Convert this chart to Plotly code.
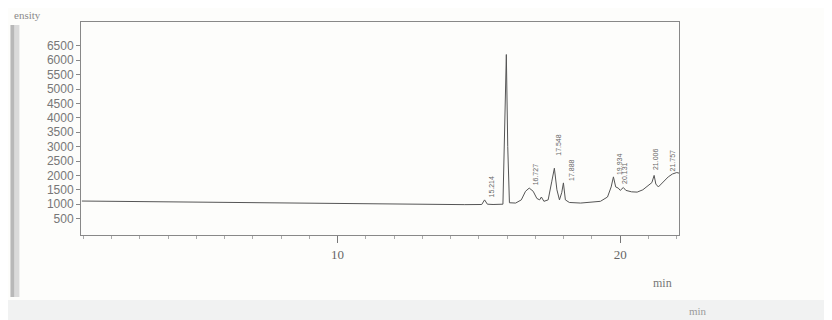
import plotly.graph_objects as go

# Chromatogram trace (time in min, signal)
time_min = [0.95, 2.0, 3.5, 5.0, 7.0, 9.0, 11.0, 13.0, 14.5, 15.1, 15.2, 15.3, 15.5, 15.85,
            15.92, 15.97, 16.02, 16.08, 16.3, 16.5, 16.65, 16.78, 16.92, 17.05, 17.15, 17.21,
            17.3, 17.45, 17.58, 17.67, 17.76, 17.85, 17.93, 17.99, 18.06, 18.2, 18.6, 19.0,
            19.3, 19.55, 19.68, 19.76, 19.84, 19.93, 20.0, 20.11, 20.2, 20.4, 20.6, 20.8,
            21.0, 21.12, 21.2, 21.26, 21.35, 21.5, 21.7, 21.85, 22.0, 22.08]
signal = [1110, 1100, 1080, 1050, 1030, 1010, 1000, 990, 985, 990, 1150, 1000, 990, 1000,
          3500, 6200, 3000, 1050, 1040, 1150, 1450, 1560, 1450, 1200, 1150, 1250,
          1100, 1150, 1800, 2250, 1500, 1150, 1400, 1740, 1150, 1060, 1040, 1060,
          1100, 1250, 1600, 1950, 1600, 1560, 1480, 1580, 1480, 1430, 1420, 1500,
          1650, 1750, 2000, 1700, 1600, 1750, 1950, 2050, 2100, 2080]

# Peak labels (retention times printed above peaks)
peak_labels = ["15.214", "16.727", "17.548", "17.888", "19.934", "20.131", "21.006", "21.757"]
peak_label_t = [15.45, 17.0, 17.82, 18.27, 20.0, 20.15, 21.25, 21.85]
peak_label_y = [1150, 1600, 2600, 1750, 1950, 1650, 2100, 2050]

y_ticks = [500, 1000, 1500, 2000, 2500, 3000, 3500, 4000, 4500, 5000, 5500, 6000, 6500]
x_ticks = [10, 20]

line_col = "#555555"
text_col = "#6a6a6a"

fig = go.Figure()
fig.add_trace(go.Scatter(x=time_min, y=signal, mode="lines",
                         line=dict(color=line_col, width=1), hoverinfo="skip",
                         showlegend=False))

for lab, t, v in zip(peak_labels, peak_label_t, peak_label_y):
    fig.add_annotation(x=t, y=v, text=lab, textangle=-90, showarrow=False,
                       xanchor="center", yanchor="bottom",
                       font=dict(size=7, color="#666666", family="Liberation Sans"))

# scan artefacts: left grey strip and bottom band
fig.add_shape(type="rect", xref="paper", yref="paper", x0=-0.118, x1=-0.111, y0=-0.291, y1=0.986,
              fillcolor="#b8b8b8", line=dict(width=0), layer="below")
fig.add_shape(type="rect", xref="paper", yref="paper", x0=-0.111, x1=-0.103, y0=-0.291, y1=0.986,
              fillcolor="#dadada", line=dict(width=0), layer="below")
fig.add_shape(type="rect", xref="paper", yref="paper", x0=-0.14, x1=1.26, y0=-0.40, y1=-0.305,
              fillcolor="#f1f2f2", line=dict(width=0), layer="below")

fig.add_annotation(xref="paper", yref="paper", x=-0.116, y=1.033, text="ensity", showarrow=False,
                   xanchor="left", yanchor="middle",
                   font=dict(size=11, color="#8a8a8a", family="Liberation Serif"))
fig.add_annotation(xref="paper", yref="paper", x=0.973, y=-0.225, text="min", showarrow=False,
                   xanchor="center", yanchor="middle",
                   font=dict(size=12, color="#777777", family="Liberation Serif"))
fig.add_annotation(xref="paper", yref="paper", x=1.032, y=-0.358, text="min", showarrow=False,
                   xanchor="center", yanchor="middle",
                   font=dict(size=11, color="#9a9a9a", family="Liberation Serif"))

fig.update_layout(
    width=832, height=320,
    margin=dict(l=73, r=161, t=14, b=93),
    paper_bgcolor="#fdfdfb", plot_bgcolor="#fdfdfb",
    font=dict(family="Liberation Sans", color=text_col),
    showlegend=False,
)
fig.update_xaxes(range=[0.92, 22.08], tickvals=x_ticks, ticktext=[str(v) for v in x_ticks],
                 showgrid=False, zeroline=False, showline=True, linecolor="#888888", linewidth=1,
                 mirror=True, ticks="outside", ticklen=7, tickcolor="#777777",
                 minor=dict(dtick=1, ticks="outside", ticklen=3, tickcolor="#aaaaaa"),
                 tickfont=dict(size=13, color="#666666", family="Liberation Serif"))
fig.update_yaxes(range=[-70, 7330], tickvals=y_ticks, ticktext=[str(v) for v in y_ticks],
                 showgrid=False, zeroline=False, showline=True, linecolor="#888888", linewidth=1,
                 mirror=True, ticks="outside", ticklen=4, tickcolor="#888888",
                 tickfont=dict(size=12, color="#777777"))

fig.write_html("out.html")
